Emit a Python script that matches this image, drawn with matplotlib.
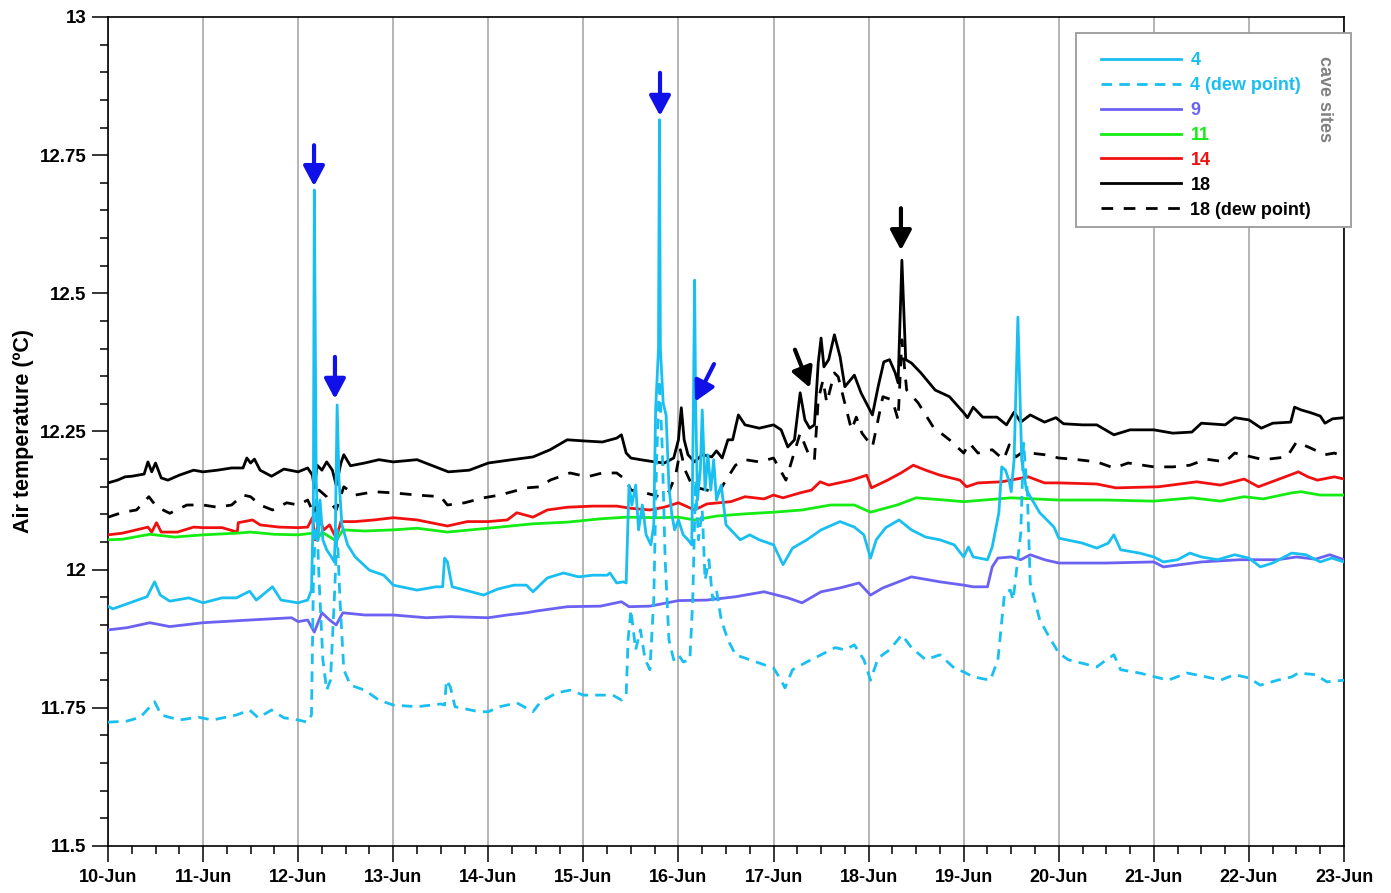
import matplotlib
matplotlib.use('Agg')
import matplotlib.pyplot as plt
from matplotlib.ticker import MultipleLocator
from matplotlib.patches import Rectangle

plt.rcParams['font.family'] = ['Liberation Sans', 'DejaVu Sans']
plt.rcParams['font.weight'] = 'bold'

# ---------------- data (t = days since 10-Jun 00:00, value = deg C) ----------------
day_labels = ['10-Jun', '11-Jun', '12-Jun', '13-Jun', '14-Jun', '15-Jun', '16-Jun',
              '17-Jun', '18-Jun', '19-Jun', '20-Jun', '21-Jun', '22-Jun', '23-Jun']
y_ticks = [11.5, 11.75, 12.0, 12.25, 12.5, 12.75, 13.0]
y_tick_labels = ['11.5', '11.75', '12', '12.25', '12.5', '12.75', '13']

site18 = [(0.00, 12.157), (0.10, 12.162), (0.18, 12.168), (0.25, 12.169), (0.38, 12.173),
          (0.42, 12.195), (0.46, 12.177), (0.50, 12.193), (0.56, 12.166), (0.63, 12.162),
          (0.75, 12.171), (0.90, 12.180), (1.00, 12.177), (1.15, 12.180), (1.30, 12.184),
          (1.42, 12.184), (1.46, 12.202), (1.50, 12.193), (1.54, 12.200), (1.60, 12.180),
          (1.72, 12.169), (1.85, 12.182), (2.00, 12.177), (2.10, 12.184), (2.15, 12.171),
          (2.17, 12.148), (2.20, 12.189), (2.25, 12.180), (2.30, 12.195), (2.36, 12.180),
          (2.40, 12.153), (2.45, 12.193), (2.48, 12.208), (2.55, 12.188), (2.70, 12.193),
          (2.85, 12.199), (3.00, 12.195), (3.25, 12.199), (3.58, 12.177), (3.80, 12.180),
          (4.00, 12.193), (4.25, 12.199), (4.47, 12.204), (4.65, 12.217), (4.83, 12.235),
          (5.00, 12.233), (5.20, 12.231), (5.35, 12.238), (5.40, 12.244), (5.45, 12.211),
          (5.50, 12.202), (5.60, 12.199), (5.75, 12.195), (5.85, 12.193), (5.95, 12.202),
          (6.00, 12.235), (6.03, 12.293), (6.06, 12.235), (6.10, 12.208), (6.17, 12.195),
          (6.25, 12.208), (6.35, 12.204), (6.40, 12.215), (6.46, 12.202), (6.52, 12.235),
          (6.57, 12.235), (6.63, 12.280), (6.70, 12.262), (6.85, 12.256), (7.00, 12.262),
          (7.08, 12.253), (7.15, 12.222), (7.22, 12.235), (7.28, 12.320), (7.33, 12.271),
          (7.38, 12.256), (7.43, 12.262), (7.47, 12.374), (7.50, 12.419), (7.53, 12.367),
          (7.58, 12.380), (7.64, 12.425), (7.70, 12.385), (7.75, 12.331), (7.85, 12.352),
          (7.92, 12.320), (8.04, 12.280), (8.10, 12.331), (8.16, 12.376), (8.22, 12.380),
          (8.28, 12.356), (8.31, 12.338), (8.35, 12.560), (8.39, 12.380), (8.45, 12.374),
          (8.55, 12.356), (8.70, 12.325), (8.85, 12.313), (9.00, 12.284), (9.04, 12.275),
          (9.10, 12.294), (9.20, 12.276), (9.35, 12.276), (9.45, 12.262), (9.53, 12.285),
          (9.60, 12.267), (9.70, 12.280), (9.85, 12.267), (9.97, 12.275), (10.05, 12.264),
          (10.25, 12.262), (10.40, 12.262), (10.58, 12.244), (10.75, 12.253), (11.00, 12.253),
          (11.20, 12.247), (11.40, 12.249), (11.50, 12.265), (11.75, 12.262), (11.85, 12.275),
          (12.00, 12.271), (12.13, 12.256), (12.25, 12.265), (12.44, 12.267), (12.48, 12.294),
          (12.55, 12.289), (12.65, 12.284), (12.75, 12.278), (12.80, 12.265), (12.88, 12.273),
          (13.00, 12.275)]

site18_dew = [(0.00, 12.095), (0.16, 12.104), (0.30, 12.108), (0.43, 12.132), (0.47, 12.123),
              (0.52, 12.113), (0.65, 12.102), (0.83, 12.117), (1.00, 12.117), (1.15, 12.113),
              (1.30, 12.117), (1.42, 12.135), (1.50, 12.132), (1.60, 12.117), (1.73, 12.108),
              (1.88, 12.121), (2.00, 12.117), (2.10, 12.126), (2.17, 12.099), (2.22, 12.144),
              (2.30, 12.132), (2.40, 12.108), (2.48, 12.150), (2.60, 12.135), (2.80, 12.141),
              (3.00, 12.139), (3.25, 12.135), (3.50, 12.132), (3.57, 12.117), (3.75, 12.121),
              (3.95, 12.130), (4.12, 12.135), (4.40, 12.148), (4.55, 12.150), (4.65, 12.162),
              (4.86, 12.175), (5.04, 12.168), (5.20, 12.175), (5.35, 12.175), (5.45, 12.162),
              (5.50, 12.144), (5.65, 12.139), (5.80, 12.132), (5.90, 12.141), (5.97, 12.171),
              (6.02, 12.217), (6.07, 12.180), (6.15, 12.150), (6.30, 12.144), (6.42, 12.139),
              (6.50, 12.162), (6.60, 12.189), (6.70, 12.199), (6.85, 12.195), (7.00, 12.202),
              (7.13, 12.162), (7.28, 12.247), (7.38, 12.204), (7.43, 12.199), (7.47, 12.307),
              (7.52, 12.343), (7.56, 12.302), (7.64, 12.356), (7.68, 12.349), (7.82, 12.253),
              (7.87, 12.276), (7.93, 12.247), (8.04, 12.222), (8.15, 12.313), (8.25, 12.307),
              (8.31, 12.271), (8.35, 12.416), (8.40, 12.325), (8.52, 12.302), (8.68, 12.258),
              (8.85, 12.235), (9.00, 12.211), (9.06, 12.229), (9.15, 12.211), (9.30, 12.217),
              (9.42, 12.199), (9.48, 12.226), (9.55, 12.204), (9.62, 12.213), (9.70, 12.211),
              (9.85, 12.208), (10.00, 12.202), (10.15, 12.200), (10.40, 12.195), (10.58, 12.184),
              (10.73, 12.193), (11.00, 12.186), (11.20, 12.186), (11.38, 12.189), (11.55, 12.200),
              (11.75, 12.195), (11.85, 12.211), (11.98, 12.206), (12.15, 12.199), (12.40, 12.204),
              (12.50, 12.231), (12.65, 12.220), (12.80, 12.208), (12.90, 12.211), (13.00, 12.204)]

site14 = [(0.00, 12.063), (0.15, 12.066), (0.42, 12.077), (0.46, 12.068), (0.51, 12.085),
          (0.56, 12.068), (0.73, 12.068), (0.90, 12.077), (1.00, 12.076), (1.20, 12.076),
          (1.36, 12.068), (1.37, 12.085), (1.52, 12.090), (1.60, 12.081), (1.80, 12.077),
          (2.00, 12.076), (2.10, 12.077), (2.15, 12.094), (2.18, 12.054), (2.22, 12.094),
          (2.27, 12.072), (2.33, 12.081), (2.40, 12.057), (2.45, 12.087), (2.60, 12.087),
          (2.80, 12.090), (3.00, 12.094), (3.25, 12.090), (3.57, 12.079), (3.78, 12.087),
          (4.00, 12.087), (4.20, 12.090), (4.30, 12.103), (4.47, 12.095), (4.62, 12.108),
          (4.83, 12.113), (5.10, 12.115), (5.35, 12.115), (5.50, 12.111), (5.70, 12.108),
          (5.85, 12.113), (6.00, 12.121), (6.17, 12.108), (6.30, 12.119), (6.55, 12.123),
          (6.70, 12.132), (6.90, 12.128), (7.00, 12.135), (7.10, 12.130), (7.28, 12.139),
          (7.40, 12.144), (7.49, 12.159), (7.58, 12.153), (7.82, 12.162), (7.98, 12.171),
          (8.03, 12.148), (8.20, 12.162), (8.34, 12.175), (8.47, 12.189), (8.60, 12.180),
          (8.75, 12.171), (8.96, 12.162), (9.03, 12.150), (9.15, 12.157), (9.40, 12.159),
          (9.68, 12.168), (9.85, 12.157), (10.00, 12.157), (10.40, 12.155), (10.60, 12.148),
          (11.05, 12.150), (11.45, 12.159), (11.70, 12.153), (11.95, 12.164), (12.10, 12.150),
          (12.35, 12.166), (12.52, 12.177), (12.62, 12.168), (12.72, 12.162), (12.90, 12.168),
          (13.00, 12.164)]

site11 = [(0.00, 12.054), (0.15, 12.055), (0.44, 12.064), (0.70, 12.059), (1.00, 12.063),
          (1.35, 12.066), (1.50, 12.068), (1.75, 12.064), (2.00, 12.063), (2.15, 12.066),
          (2.20, 12.054), (2.25, 12.068), (2.40, 12.052), (2.47, 12.072), (2.70, 12.070),
          (3.00, 12.072), (3.25, 12.075), (3.57, 12.068), (4.00, 12.075), (4.47, 12.083),
          (4.83, 12.086), (5.18, 12.092), (5.45, 12.095), (5.80, 12.094), (6.00, 12.095),
          (6.17, 12.090), (6.40, 12.097), (6.70, 12.101), (7.00, 12.104), (7.30, 12.108),
          (7.60, 12.117), (7.85, 12.117), (8.02, 12.104), (8.30, 12.117), (8.50, 12.130),
          (8.80, 12.126), (9.00, 12.123), (9.50, 12.130), (10.00, 12.126), (10.50, 12.126),
          (11.00, 12.124), (11.40, 12.130), (11.70, 12.124), (11.95, 12.132), (12.15, 12.128),
          (12.45, 12.139), (12.55, 12.141), (12.75, 12.135), (13.00, 12.135)]

site9 = [(0.00, 11.891), (0.20, 11.895), (0.44, 11.904), (0.65, 11.897), (1.00, 11.904),
         (1.50, 11.909), (1.93, 11.913), (2.00, 11.906), (2.10, 11.909), (2.17, 11.887),
         (2.25, 11.922), (2.33, 11.909), (2.40, 11.900), (2.47, 11.922), (2.70, 11.918),
         (3.00, 11.918), (3.35, 11.913), (3.60, 11.915), (4.00, 11.913), (4.20, 11.918),
         (4.40, 11.922), (4.50, 11.925), (4.83, 11.933), (5.18, 11.934), (5.40, 11.942),
         (5.48, 11.933), (5.70, 11.934), (6.00, 11.944), (6.30, 11.945), (6.60, 11.951),
         (6.90, 11.960), (7.15, 11.949), (7.30, 11.940), (7.50, 11.960), (7.70, 11.967),
         (7.90, 11.976), (8.02, 11.954), (8.15, 11.967), (8.45, 11.987), (8.75, 11.978),
         (9.00, 11.972), (9.10, 11.969), (9.25, 11.969), (9.30, 12.005), (9.36, 12.021),
         (9.50, 12.023), (9.60, 12.018), (9.70, 12.027), (9.85, 12.018), (10.00, 12.012),
         (10.50, 12.012), (11.00, 12.014), (11.10, 12.005), (11.50, 12.014), (11.90, 12.018),
         (12.30, 12.018), (12.50, 12.023), (12.70, 12.019), (12.85, 12.027), (13.00, 12.018)]

site4 = [(0.00, 11.934), (0.05, 11.929), (0.23, 11.940), (0.41, 11.951), (0.49, 11.978),
         (0.55, 11.954), (0.65, 11.943), (0.85, 11.949), (1.00, 11.940), (1.20, 11.949),
         (1.35, 11.949), (1.49, 11.961), (1.56, 11.945), (1.73, 11.969), (1.82, 11.945),
         (2.00, 11.940), (2.10, 11.945), (2.14, 11.963), (2.16, 12.117), (2.17, 12.687),
         (2.19, 12.162), (2.21, 12.054), (2.23, 12.126), (2.26, 12.054), (2.30, 12.036),
         (2.35, 12.023), (2.38, 12.014), (2.39, 12.054), (2.41, 12.298), (2.43, 12.162),
         (2.46, 12.081), (2.52, 12.045), (2.60, 12.023), (2.75, 11.999), (2.90, 11.990),
         (3.00, 11.972), (3.25, 11.963), (3.45, 11.969), (3.52, 11.969), (3.54, 12.021),
         (3.57, 12.014), (3.62, 11.969), (3.80, 11.961), (3.95, 11.954), (4.10, 11.965),
         (4.27, 11.972), (4.40, 11.972), (4.47, 11.960), (4.62, 11.985), (4.79, 11.994),
         (4.95, 11.987), (5.10, 11.990), (5.25, 11.990), (5.28, 11.994), (5.35, 11.976),
         (5.42, 11.978), (5.45, 11.976), (5.48, 12.153), (5.51, 12.117), (5.55, 12.153),
         (5.58, 12.072), (5.62, 12.117), (5.66, 12.063), (5.71, 12.045), (5.74, 12.081),
         (5.76, 12.290), (5.79, 12.400), (5.80, 12.814), (5.81, 12.400), (5.84, 12.300),
         (5.87, 12.280), (5.90, 12.150), (5.93, 12.100), (5.96, 12.072), (6.00, 12.090),
         (6.05, 12.063), (6.10, 12.054), (6.14, 12.045), (6.16, 12.343), (6.17, 12.524),
         (6.18, 12.307), (6.20, 12.126), (6.23, 12.180), (6.25, 12.289), (6.28, 12.144),
         (6.31, 12.208), (6.34, 12.144), (6.37, 12.199), (6.40, 12.126), (6.45, 12.153),
         (6.50, 12.081), (6.55, 12.072), (6.65, 12.054), (6.75, 12.063), (6.85, 12.054),
         (7.00, 12.045), (7.10, 12.009), (7.20, 12.039), (7.35, 12.054), (7.50, 12.072),
         (7.70, 12.087), (7.85, 12.077), (7.95, 12.063), (8.02, 12.021), (8.08, 12.054),
         (8.18, 12.076), (8.32, 12.090), (8.45, 12.072), (8.60, 12.059), (8.75, 12.054),
         (8.90, 12.045), (9.00, 12.023), (9.05, 12.041), (9.10, 12.023), (9.25, 12.018),
         (9.30, 12.041), (9.37, 12.103), (9.40, 12.186), (9.44, 12.180), (9.48, 12.159),
         (9.50, 12.141), (9.53, 12.199), (9.57, 12.457), (9.61, 12.199), (9.66, 12.144),
         (9.80, 12.103), (9.95, 12.077), (10.00, 12.057), (10.25, 12.048), (10.40, 12.039),
         (10.52, 12.048), (10.58, 12.063), (10.65, 12.036), (10.85, 12.030), (11.00, 12.023),
         (11.10, 12.014), (11.25, 12.018), (11.38, 12.030), (11.50, 12.023), (11.67, 12.018),
         (11.85, 12.027), (12.00, 12.021), (12.12, 12.005), (12.25, 12.012), (12.45, 12.030),
         (12.60, 12.027), (12.75, 12.014), (12.87, 12.021), (13.00, 12.014)]

site4_dew = [(0.00, 11.724), (0.20, 11.726), (0.34, 11.733), (0.41, 11.746), (0.49, 11.761),
             (0.56, 11.737), (0.75, 11.728), (0.95, 11.733), (1.10, 11.728), (1.35, 11.737),
             (1.49, 11.746), (1.58, 11.732), (1.72, 11.746), (1.85, 11.732), (2.00, 11.728),
             (2.10, 11.724), (2.14, 11.737), (2.16, 11.976), (2.19, 12.126), (2.22, 11.981),
             (2.26, 11.837), (2.30, 11.782), (2.34, 11.800), (2.38, 11.945), (2.41, 12.072),
             (2.44, 11.945), (2.48, 11.819), (2.55, 11.791), (2.70, 11.782), (2.85, 11.764),
             (3.00, 11.755), (3.25, 11.752), (3.50, 11.757), (3.54, 11.755), (3.56, 11.800),
             (3.60, 11.788), (3.65, 11.752), (3.90, 11.743), (4.00, 11.743), (4.12, 11.752),
             (4.30, 11.759), (4.47, 11.743), (4.55, 11.761), (4.72, 11.777), (4.86, 11.782),
             (5.00, 11.773), (5.20, 11.773), (5.31, 11.773), (5.40, 11.764), (5.45, 11.773),
             (5.47, 11.873), (5.50, 11.927), (5.55, 11.855), (5.60, 11.891), (5.65, 11.837),
             (5.70, 11.819), (5.74, 11.945), (5.77, 12.198), (5.80, 12.343), (5.83, 12.217),
             (5.86, 12.018), (5.90, 11.873), (5.95, 11.837), (6.00, 11.846), (6.05, 11.833),
             (6.12, 11.837), (6.15, 11.945), (6.18, 12.162), (6.21, 12.054), (6.25, 12.108),
             (6.28, 11.981), (6.32, 12.018), (6.36, 11.945), (6.40, 11.963), (6.45, 11.909),
             (6.52, 11.873), (6.60, 11.846), (6.75, 11.837), (6.90, 11.828), (7.00, 11.822),
             (7.08, 11.800), (7.12, 11.786), (7.20, 11.819), (7.35, 11.833), (7.50, 11.846),
             (7.65, 11.859), (7.75, 11.855), (7.85, 11.864), (7.95, 11.837), (8.02, 11.800),
             (8.10, 11.840), (8.22, 11.855), (8.35, 11.882), (8.45, 11.859), (8.60, 11.837),
             (8.75, 11.846), (8.90, 11.822), (9.00, 11.815), (9.10, 11.806), (9.28, 11.800),
             (9.36, 11.837), (9.43, 11.958), (9.49, 11.963), (9.52, 11.945), (9.60, 12.066),
             (9.63, 12.229), (9.67, 12.139), (9.70, 11.976), (9.80, 11.909), (9.90, 11.878),
             (10.00, 11.849), (10.10, 11.837), (10.40, 11.824), (10.50, 11.837), (10.58, 11.846),
             (10.65, 11.819), (10.85, 11.813), (11.15, 11.800), (11.35, 11.813), (11.55, 11.806),
             (11.70, 11.800), (11.85, 11.810), (12.00, 11.804), (12.12, 11.791), (12.30, 11.800),
             (12.45, 11.806), (12.52, 11.813), (12.70, 11.810), (12.82, 11.797), (13.00, 11.800)]

# ---------------- figure ----------------
W, H = 1391, 893
fig = plt.figure(figsize=(W / 100, H / 100), dpi=100)
ax = fig.add_axes([108 / W, 1 - 846 / H, (1344 - 108) / W, (846 - 17) / H])

CYAN = '#19bff0'
PURPLE = '#6b62f2'
GREEN = '#14ec14'
RED = '#f01010'
BLACK = '#000000'

styles = [
    (site18_dew, BLACK, (0, (4.2, 3.8)), '18 (dew point)', 2),
    (site18, BLACK, '-', '18', 3),
    (site14, RED, '-', '14', 3),
    (site11, GREEN, '-', '11', 3),
    (site9, PURPLE, '-', '9', 3),
    (site4_dew, CYAN, (0, (3.8, 2.6)), '4 (dew point)', 3),
    (site4, CYAN, '-', '4', 4),
]
handles = {}
for data, col, ls, lab, z in styles:
    t = [p[0] for p in data]
    v = [p[1] for p in data]
    ln, = ax.plot(t, v, color=col, lw=2.0, ls=ls, label=lab, zorder=z,
                  solid_joinstyle='round')
    handles[lab] = ln

ax.set_xlim(0, 13)
ax.set_ylim(11.5, 13)
ax.set_xticks(range(len(day_labels)))
ax.set_xticklabels(day_labels)
ax.xaxis.set_minor_locator(MultipleLocator(0.25))
ax.set_yticks(y_ticks)
ax.set_yticklabels(y_tick_labels)
ax.yaxis.set_minor_locator(MultipleLocator(0.05))
ax.tick_params(which='major', length=11.5, width=1.1, direction='out', color='black')
ax.tick_params(which='minor', length=6, width=1.1, direction='out', color='black')
ax.tick_params(axis='y', labelsize=13.5, pad=4)
ax.tick_params(axis='x', labelsize=13, pad=5)
for lab in ax.get_xticklabels() + ax.get_yticklabels():
    lab.set_fontweight('bold')
ax.grid(axis='x', which='major', color='#a0a0a0', lw=1.1, zorder=1)
ax.set_axisbelow(True)
for sp in ax.spines.values():
    sp.set_linewidth(1.2)
    sp.set_color('black')

ax.set_ylabel('Air temperature (ºC)', fontsize=15.5, fontweight='bold')
ax.yaxis.set_label_coords((34 - 108) / 1236, 0.5)

# arrows marking peaks
arrow_kw = dict(arrowstyle='-|>,head_width=0.32,head_length=0.6', lw=3.0,
                mutation_scale=20, shrinkA=0, shrinkB=0)
for tail, tip, col in [((2.167, 12.768), (2.167, 12.694), '#1010e8'),
                       ((2.387, 12.385), (2.387, 12.309), '#1010e8'),
                       ((5.806, 12.899), (5.806, 12.821), '#1010e8'),
                       ((6.374, 12.372), (6.174, 12.304), '#1010e8'),
                       ((7.225, 12.398), (7.383, 12.329), '#000000'),
                       ((8.340, 12.654), (8.340, 12.578), '#000000')]:
    ax.annotate('', xy=tip, xytext=tail,
                arrowprops=dict(color=col, **arrow_kw), zorder=6)

# legend box
box = Rectangle((1076 / W, 1 - 227 / H), 275 / W, 194 / H, transform=fig.transFigure,
                facecolor='white', edgecolor='#9a9a9a', lw=1.3, zorder=7, clip_on=False)
ax.add_patch(box)
order = ['4', '4 (dew point)', '9', '11', '14', '18', '18 (dew point)']
leg = ax.legend([handles[k] for k in order], order, loc='upper left',
                bbox_to_anchor=(1101 / W, 1 - 52 / H), bbox_transform=fig.transFigure,
                frameon=False, handlelength=4.45, handletextpad=0.5,
                labelspacing=0.44, borderpad=0, borderaxespad=0,
                prop={'weight': 'bold', 'size': 13})
leg.set_zorder(8)
for txt, ln in zip(leg.get_texts(), leg.get_lines()):
    txt.set_color(ln.get_color())
fig.text(1325 / W, 1 - 99 / H, 'cave sites', rotation=-90, color='#808080',
         fontsize=13, fontweight='bold', ha='center', va='center', zorder=9)

fig.savefig('out.png', dpi=100)
